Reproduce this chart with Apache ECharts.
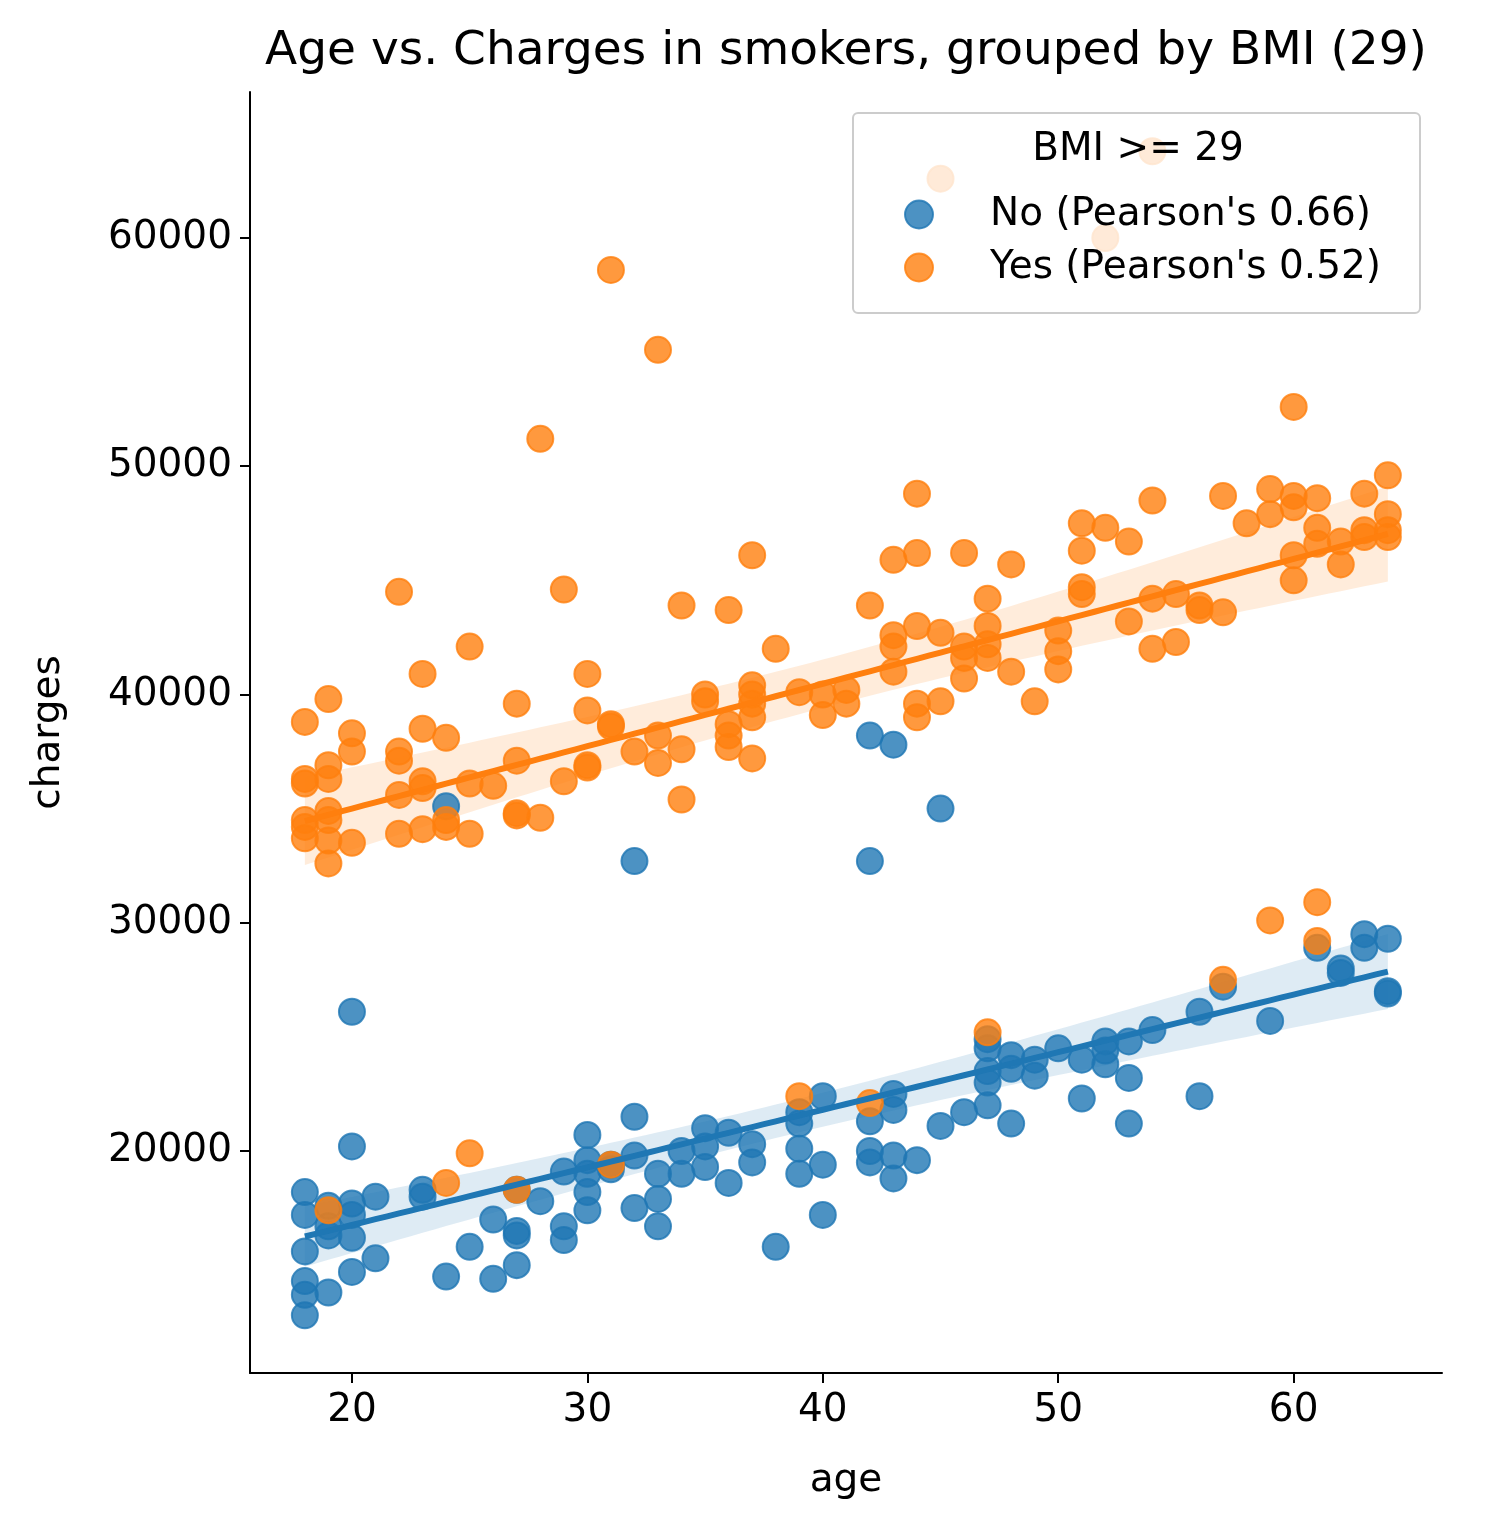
<!DOCTYPE html>
<html><head><meta charset="utf-8">
<script src="https://cdn.jsdelivr.net/npm/echarts@6/dist/echarts.min.js"></script>
<style>html,body{margin:0;background:#fff}#c{width:1494px;height:1533px}</style>
</head><body><div id="c"></div>
<script>
// [age, charges]
var noPoints = [[18,12800],[18,13700],[18,14300],[18,15600],[18,17200],[18,18200],[19,13800],[19,16300],[19,16700],[19,17600],
[20,26100],[20,20200],[20,17700],[20,17200],[20,16200],[20,14700],[21,18000],[21,15300],[23,18300],[23,18000],[24,35100],[24,14500],
[25,15800],[26,17000],[26,14400],[27,16500],[27,16300],[27,15000],[27,18300],[28,17800],[29,19100],[29,16700],[29,16100],
[30,20700],[30,19600],[30,19000],[30,18200],[30,17400],[31,19400],[31,19200],[32,32700],[32,21500],[32,19800],[32,17500],
[33,19000],[33,17900],[33,16700],[34,20000],[34,19000],[35,21000],[35,20200],[35,19300],[36,20800],[36,18600],[37,20300],[37,19500],
[38,15800],[39,21700],[39,21200],[39,20100],[39,19000],[40,22400],[40,19400],[40,17200],[42,38200],[42,32700],[42,21300],[42,20000],[42,19500],
[43,37800],[43,22500],[43,21800],[43,19800],[43,18800],[44,19600],[45,35000],[45,21100],[46,21700],
[47,24900],[47,24500],[47,23500],[47,23000],[47,22000],[48,24200],[48,23600],[48,21200],[49,24000],[49,23300],[50,24500],
[51,24000],[51,22300],[52,24800],[52,24400],[52,23800],[53,24800],[53,23200],[53,21200],[54,25300],[56,26100],[56,22400],
[57,27200],[59,25700],[61,28900],[62,28000],[62,27800],[63,29500],[63,28900],[64,29300],[64,27000],[64,26900]];
var yesPoints = [[18,38800],[18,36300],[18,36100],[18,34500],[18,34200],[18,33700],[19,39800],[19,36900],[19,36300],[19,34900],[19,34500],
[19,33600],[19,32600],[19,17400],[20,38300],[20,37500],[20,33500],[22,44500],[22,37500],[22,37100],[22,35600],[22,33900],
[23,40900],[23,38500],[23,36200],[23,35900],[23,34100],[24,38100],[24,34500],[24,34200],[24,18600],[25,42100],[25,36100],[25,33900],[25,19900],
[26,36000],[27,39600],[27,37100],[27,34800],[27,34700],[27,18300],[28,51200],[28,34600],[29,44600],[29,36200],
[30,40900],[30,39300],[30,36900],[30,36800],[31,58600],[31,38700],[31,38600],[31,19400],[32,37500],[33,55100],[33,38200],[33,37000],
[34,43900],[34,37600],[34,35400],[35,40000],[35,39700],[36,43700],[36,38700],[36,38200],[36,37700],
[37,46100],[37,40400],[37,40000],[37,39600],[37,39000],[37,37200],[38,42000],[39,40100],[39,22400],[40,40000],[40,39100],
[41,40200],[41,39600],[42,43900],[42,22100],[43,45900],[43,42600],[43,42100],[43,41000],[44,48800],[44,46200],[44,43000],[44,39600],[44,39000],
[45,62600],[45,42700],[45,39700],[46,46200],[46,42100],[46,41600],[46,40700],[47,44200],[47,43000],[47,42200],[47,41600],[47,25200],
[48,45700],[48,41000],[49,39700],[50,42800],[50,41900],[50,41100],[51,47500],[51,46300],[51,44700],[51,44400],[52,60000],[52,47300],
[53,46700],[53,43200],[54,63800],[54,48500],[54,44200],[54,42000],[55,44400],[55,42300],[56,43900],[56,43700],
[57,48700],[57,43600],[57,27500],[58,47500],[59,49000],[59,47900],[59,30100],[60,52600],[60,48700],[60,48200],[60,46100],[60,45000],
[61,48600],[61,47300],[61,46600],[61,30900],[61,29200],[62,46700],[62,45700],[63,48800],[63,47200],[63,46900],
[64,49600],[64,47900],[64,47200],[64,46900]];
var seriesNames = ["No (Pearson's 0.66)", "Yes (Pearson's 0.52)"];
var xTicks = [20, 30, 40, 50, 60];
var yTicks = [20000, 30000, 40000, 50000, 60000];
var colors = ['#1f77b4', '#ff7f0e'];
var FONT = 'DejaVu Sans';

// least-squares fit with 95% confidence band of the mean
function fit(pts) {
    var n = pts.length, mx = 0, my = 0;
    pts.forEach(function(p) { mx += p[0]; my += p[1]; });
    mx /= n; my /= n;
    var sxx = 0, sxy = 0;
    pts.forEach(function(p) { sxx += (p[0]-mx)*(p[0]-mx); sxy += (p[0]-mx)*(p[1]-my); });
    var b = sxy / sxx, a = my - b * mx, sse = 0;
    pts.forEach(function(p) { var r = p[1] - (a + b*p[0]); sse += r*r; });
    var s = Math.sqrt(sse / (n - 2));
    var line = [], band = [];
    for (var x = 18; x <= 64.001; x += 0.5) {
        var y = a + b*x, h = 1.97 * s * Math.sqrt(1/n + (x-mx)*(x-mx)/sxx);
        line.push([x, y]); band.push([x, y - h, y + h]);
    }
    return {line: line, band: band};
}

var series = [];
[noPoints, yesPoints].forEach(function(pts, i) {
    var band = fit(pts).band;
    series.push({type: 'custom', silent: true, z: 1, data: [0],
        renderItem: function(params, api) {
            var up = band.map(function(d) { return api.coord([d[0], d[2]]); });
            var lo = band.map(function(d) { return api.coord([d[0], d[1]]); }).reverse();
            return {type: 'polygon', shape: {points: up.concat(lo)},
                style: {fill: colors[i], opacity: 0.15}};
        }});
});
[noPoints, yesPoints].forEach(function(pts, i) {
    series.push({name: seriesNames[i], type: 'scatter', data: pts, symbolSize: 26, z: 2 + i,
        itemStyle: {color: colors[i], opacity: 0.8, borderColor: colors[i], borderWidth: 2}});
});
[noPoints, yesPoints].forEach(function(pts, i) {
    series.push({type: 'line', data: fit(pts).line, symbol: 'none', z: 5,
        lineStyle: {color: colors[i], width: 6}});
});

var axisCommon = {
    axisLine: {lineStyle: {color: '#000', width: 2}},
    axisTick: {length: 10, lineStyle: {color: '#000', width: 2}},
    axisLabel: {color: '#000', fontSize: 39, fontFamily: FONT, margin: 18, formatter: function(v) { return String(v); }},
    splitLine: {show: false},
    nameTextStyle: {color: '#000', fontSize: 39, fontFamily: FONT}
};
var chart = echarts.init(document.getElementById('c'));
chart.setOption({
    animation: false,
    grid: {left: 250, right: 52, top: 92, bottom: 160},
    xAxis: echarts.util.merge({type: 'value', min: 15.67, max: 66.3, name: 'age', nameLocation: 'middle', nameGap: 88,
        axisTick: {customValues: xTicks}, axisLabel: {customValues: xTicks}}, axisCommon),
    yAxis: echarts.util.merge({type: 'value', min: 10274, max: 66396, name: 'charges', nameLocation: 'middle', nameGap: 182,
        axisTick: {customValues: yTicks}, axisLabel: {customValues: yTicks}}, axisCommon),
    legend: {data: seriesNames, orient: 'vertical', left: 899, top: 190, itemGap: 14, icon: 'circle', z: 20,
        itemWidth: 28, itemHeight: 28, itemStyle: {opacity: 0.8},
        textStyle: {fontSize: 39, fontFamily: FONT, color: '#000', padding: [0, 0, 0, 52]}},
    graphic: [
        {type: 'rect', shape: {x: 853, y: 113, width: 567, height: 200, r: 5},
            style: {fill: 'rgba(255,255,255,0.8)', stroke: '#ccc', lineWidth: 2}, z: 10},
        {type: 'text', x: 1138, y: 150, style: {text: 'BMI >= 29', fontSize: 39, fontFamily: FONT, fill: '#000',
            align: 'center', verticalAlign: 'middle'}, z: 11},
        {type: 'text', x: 846, y: 52, style: {text: 'Age vs. Charges in smokers, grouped by BMI (29)', fontSize: 47,
            fontFamily: FONT, fill: '#000', align: 'center', verticalAlign: 'middle'}, z: 11}
    ],
    series: series
});
</script></body></html>
